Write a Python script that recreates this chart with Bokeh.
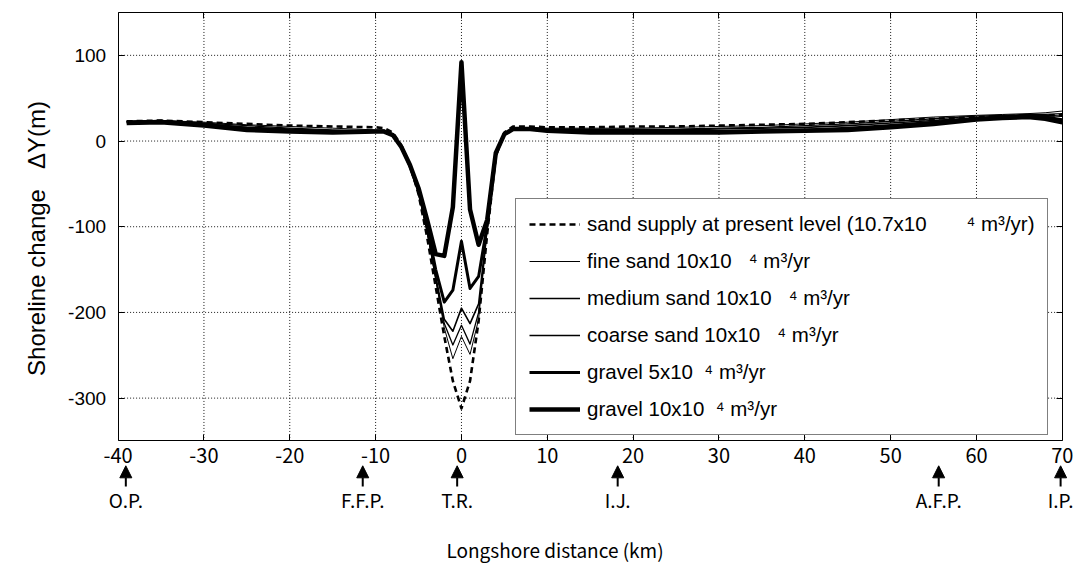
import math
from bokeh.plotting import figure
from bokeh.models import (Label, Arrow, NormalHead, ColumnDataSource, LinearAxis,
                          FixedTicker)
from bokeh.embed import file_html
from bokeh.resources import INLINE

# ---------------- data ----------------
x_km = [-39, -35, -30, -25, -20, -15, -10, -9, -8, -7, -6, -5, -4, -3, -2, -1, 0, 1, 2, 3, 4, 5, 6,
        8, 10, 15, 20, 25, 30, 35, 40, 45, 50, 55, 60, 63, 66, 68, 70]

present = [23, 24, 22, 20, 18, 17, 16, 15, 10, -5, -28, -62, -112, -170, -228, -280, -312, -280, -210, -108, -18, 10, 17,
           17, 16, 16, 17, 17, 18, 19, 20, 22, 24, 26, 28, 29, 30, 30, 30]
fine = [23, 24, 22, 19, 17, 15, 13, 13, 8, -6, -29, -60, -106, -162, -218, -254, -228, -249, -208, -104, -15, 8, 14,
        16, 15, 15, 15, 16, 17, 18, 20, 22, 25, 28, 30, 31, 32, 33, 35]
medium = [23, 24, 21, 18, 15, 13, 12, 12, 8, -6, -29, -60, -105, -160, -213, -238, -215, -237, -200, -102, -15, 8, 14,
          15, 14, 14, 14, 14, 15, 16, 18, 20, 23, 26, 29, 30, 31, 31, 32]
coarse = [22, 23, 20, 16, 14, 12, 12, 12, 8, -6, -29, -60, -104, -158, -208, -222, -195, -213, -190, -100, -15, 8, 14,
          15, 14, 13, 13, 13, 14, 15, 16, 18, 21, 24, 27, 29, 30, 30, 29]
gravel5 = [22, 23, 19, 15, 12, 11, 11, 11, 7, -7, -29, -58, -100, -150, -188, -174, -117, -172, -158, -98, -15, 8, 14,
           14, 12, 11, 11, 11, 11, 12, 13, 15, 18, 22, 26, 28, 29, 28, 25]
gravel10 = [21, 22, 18, 13, 11, 10, 11, 11, 7, -7, -28, -55, -92, -132, -134, -77, 92, -80, -121, -92, -14, 8, 14,
            14, 12, 10, 10, 10, 10, 11, 12, 13, 16, 20, 25, 27, 28, 26, 22]

NB = "\u00a0"
series_labels = [
    "sand supply at present level (10.7x10" + NB * 7 + "\u2074 m\u00b3/yr)",
    "fine sand 10x10" + NB * 3 + "\u2074 m\u00b3/yr",
    "medium sand 10x10" + NB * 3 + "\u2074 m\u00b3/yr",
    "coarse sand 10x10" + NB * 3 + "\u2074 m\u00b3/yr",
    "gravel 5x10" + NB * 2 + "\u2074 m\u00b3/yr",
    "gravel 10x10" + NB * 2 + "\u2074 m\u00b3/yr",
]

site_names = ["O.P.", "F.F.P.", "T.R.", "I.J.", "A.F.P.", "I.P."]
site_km = [-39.1, -11.5, -0.5, 18.2, 55.6, 69.8]

x_ticks = [-40, -30, -20, -10, 0, 10, 20, 30, 40, 50, 60, 70]
x_tick_labels = ["-40", "-30", "-20", "-10", "0", "10", "20", "30", "40", "50", "60", "70"]
y_ticks = [-300, -200, -100, 0, 100]
y_tick_labels = ["-300", "-200", "-100", "0", "100"]

x_title = "Longshore distance (km)"
y_title = "Shoreline change" + NB * 3 + "\u0394Y(m)"

X_MIN, X_MAX = -40, 70
Y_MIN, Y_MAX = -350, 150

GOTHIC = "Noto Sans CJK JP"

# ---------------- figure ----------------
# The frame covers the whole page so that the site markers, the titles and the end
# tick labels around the plotting box are not clipped; the box is built from axes
# fixed at its edges.
p = figure(width=1085, height=569, x_range=(-53.7, 72.7), y_range=(-500, 164),
           output_backend="svg", toolbar_location=None,
           min_border_left=0, min_border_right=0, min_border_top=0, min_border_bottom=0)
p.background_fill_color = "white"
p.border_fill_color = "white"
p.outline_line_color = None
p.xgrid.visible = False
p.ygrid.visible = False

TICK_FONT = "Liberation Sans"

xax = p.xaxis[0]
yax = p.yaxis[0]
xax.ticker = FixedTicker(ticks=x_ticks)
yax.ticker = FixedTicker(ticks=y_ticks)
xax.major_label_overrides = dict(zip(x_ticks, x_tick_labels))
yax.major_label_overrides = dict(zip(y_ticks, y_tick_labels))
xax.fixed_location = Y_MIN
xax.bounds = (X_MIN, X_MAX)
yax.fixed_location = X_MIN
yax.bounds = (Y_MIN, Y_MAX)
for ax in (xax, yax):
    ax.axis_line_color = "black"
    ax.major_tick_line_color = "black"
    ax.major_tick_in = 6
    ax.major_tick_out = 0
    ax.minor_tick_line_color = None
    ax.major_label_text_font = TICK_FONT
    ax.major_label_text_color = "black"
    ax.major_label_text_font_size = "19px"
xax.major_label_text_font = GOTHIC
xax.major_label_text_font_size = "20px"
xax.major_label_standoff = 7
yax.major_label_standoff = 12

top_ax = LinearAxis(ticker=FixedTicker(ticks=x_ticks), fixed_location=Y_MAX, bounds=(X_MIN, X_MAX),
                    major_label_overrides={t: "" for t in x_ticks},
                    major_label_text_font_size="1px", major_label_standoff=0,
                    major_tick_in=6, major_tick_out=0, minor_tick_line_color=None,
                    axis_line_color="black", major_tick_line_color="black")
p.add_layout(top_ax, "above")
right_ax = LinearAxis(ticker=FixedTicker(ticks=y_ticks), fixed_location=X_MAX, bounds=(Y_MIN, Y_MAX),
                      major_label_overrides={t: "" for t in y_ticks},
                      major_label_text_font_size="1px", major_label_standoff=0,
                      major_tick_in=6, major_tick_out=0, minor_tick_line_color=None,
                      axis_line_color="black", major_tick_line_color="black")
p.add_layout(right_ax, "right")

# dotted grid inside the box, at the tick positions
gx = x_ticks[1:-1]
gy = y_ticks
grid_v = ColumnDataSource(dict(x=gx, y0=[Y_MIN] * len(gx), y1=[Y_MAX] * len(gx)))
grid_h = ColumnDataSource(dict(y=gy, x0=[X_MIN] * len(gy), x1=[X_MAX] * len(gy)))
p.segment(x0="x", y0="y0", x1="x", y1="y1", source=grid_v, line_color="black",
          line_dash="1 2", line_width=1, line_alpha=0.9, level="underlay")
p.segment(x0="x0", y0="y", x1="x1", y1="y", source=grid_h, line_color="black",
          line_dash="1 2", line_width=1, line_alpha=0.9, level="underlay")

# ---------------- lines ----------------
styles = [
    (2.6, "6 4"),
    (1.0, "solid"),
    (1.3, "solid"),
    (1.6, "solid"),
    (3.0, "solid"),
    (4.5, "solid"),
]
src = ColumnDataSource(dict(x=x_km, present=present, fine=fine, medium=medium,
                            coarse=coarse, gravel5=gravel5, gravel10=gravel10))
names = ["present", "fine", "medium", "coarse", "gravel5", "gravel10"]
for name, (lw, dash), lab in zip(names, styles, series_labels):
    p.line("x", name, source=src, line_color="black", line_width=lw, line_dash=dash,
           line_join="round", legend_label=lab)

# legend
lg = p.legend[0]
lg.location = (515, 134)
lg.border_line_color = "black"
lg.border_line_width = 1.5
lg.background_fill_color = "white"
lg.background_fill_alpha = 1.0
lg.label_text_font = "Liberation Sans"
lg.label_text_font_size = "20.5px"
lg.label_text_color = "black"
lg.glyph_width = 51
lg.glyph_height = 24
lg.label_height = 24
lg.label_standoff = 7
lg.spacing = 13
lg.padding = 13
lg.margin = 0

# ---------------- site arrows and labels below the box ----------------
arrow_src = ColumnDataSource(dict(x=site_km, y0=[-403] * len(site_km), y1=[-379] * len(site_km)))
p.add_layout(Arrow(source=arrow_src, x_start="x", y_start="y0", x_end="x", y_end="y1",
                   line_width=2, line_color="black",
                   end=NormalHead(size=12, fill_color="black", line_color="black", line_width=1)))
for nm, xk in zip(site_names, site_km):
    p.add_layout(Label(x=xk, y=-418, text=nm, text_align="center", text_baseline="middle",
                       text_font=GOTHIC, text_font_size="19px", text_color="black"))

p.add_layout(Label(x=10.9, y=-477, text=x_title, text_align="center",
                   text_baseline="middle", text_font=GOTHIC, text_font_size="19px",
                   text_color="black"))
p.add_layout(Label(x=-49.5, y=-113.7, text=y_title, angle=math.pi / 2,
                   text_align="center", text_baseline="middle",
                   text_font="Liberation Sans", text_font_size="24px", text_color="black"))

open("out.html", "w").write(file_html(p, INLINE))
